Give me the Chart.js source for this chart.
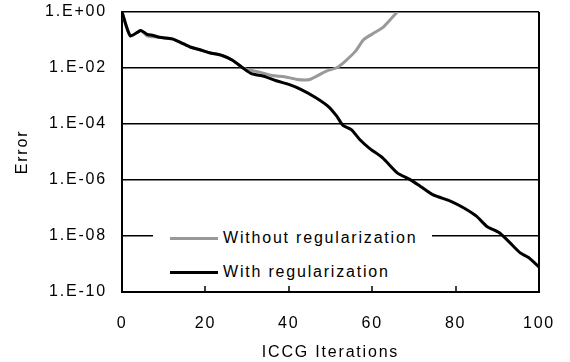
<!DOCTYPE html>
<html>
<head>
<meta charset="utf-8">
<script src="https://cdn.jsdelivr.net/npm/chart.js@4/dist/chart.umd.min.js"></script>
<style>
  html, body { margin: 0; padding: 0; background: #fff; }
  #wrap { position: relative; width: 570px; height: 362px; }
  #legend {
    position: absolute; left: 153px; top: 224px; width: 279px; height: 60px;
    background: #fff; font: 16px "Liberation Sans", Arial, sans-serif;
    letter-spacing: 1.8px; color: #000;
  }
  #legend .item { position: absolute; left: 17px; height: 20px; display: flex; align-items: center; }
  #legend .swatch { width: 48px; height: 3px; margin-right: 5px; }
</style>
</head>
<body>
<div id="wrap">
  <canvas id="errChart" width="570" height="362"></canvas>
  <div id="legend"></div>
</div>
<script>
// with regularization
var itersWith = [0, 2, 4.5, 6, 7.5, 9, 12, 14, 16.5, 18.5, 21, 24, 26.5, 29, 31, 34, 37, 40, 43, 46.5,
  49.5, 51.5, 53, 55, 57, 59.5, 62.5, 66, 69, 71.5, 74.5, 79, 82, 85, 87.5, 90.5, 93, 95.5, 97.5, 100]
var errorWith = [1, 0.14, 0.22, 0.16, 0.145, 0.125, 0.11, 0.083, 0.055, 0.046, 0.035, 0.028, 0.019, 0.010,
  0.0063, 0.0051, 0.0035, 0.0026, 0.0017, 8.7e-4, 4.2e-4, 1.9e-4, 8.9e-5, 6.3e-5, 2.8e-5, 1.3e-5, 6.2e-6,
  1.8e-6, 1.05e-6, 6.0e-7, 3.0e-7, 1.7e-7, 1.0e-7, 5.1e-8, 2.2e-8, 1.3e-8, 5.8e-9, 2.5e-9, 1.7e-9, 7.8e-10]

// without regularization
var itersWithout = [0, 2, 4.5, 6, 7.5, 9, 12, 14, 16.5, 18.5, 21, 24, 26.5, 29, 30, 33, 36, 39, 42, 45,
  49, 51.5, 53.5, 56, 58, 60.5, 62.5, 64, 66]
var errorWithout = [1, 0.14, 0.22, 0.14, 0.13, 0.125, 0.11, 0.083, 0.055, 0.046, 0.035, 0.028, 0.019, 0.010,
  0.0089, 0.0071, 0.0054, 0.0049, 0.0039, 0.0039, 0.0078, 0.0102, 0.0174, 0.04, 0.105, 0.18, 0.275, 0.47, 1]

var seriesLabels = ['With regularization', 'Without regularization']
var yTickValues = [1, 1e-2, 1e-4, 1e-6, 1e-8, 1e-10]
var yTickLabels = ['1.E+00', '1.E-02', '1.E-04', '1.E-06', '1.E-08', '1.E-10']
var xTickValues = [0, 20, 40, 60, 80, 100]

function toPoints(xs, ys) {
    return xs.map(function (x, i) { return {x: x, y: ys[i]} })
}

var FONT = {family: '"Liberation Sans", Arial, sans-serif', size: 16}

// wide letter spacing like the original
var spacingPlugin = {
    id: 'spacing',
    beforeLayout: function (chart) { chart.ctx.letterSpacing = '1.8px' },
    beforeDraw: function (chart) { chart.ctx.letterSpacing = '1.8px' }
}

// small tick marks pointing up from the x axis
var innerTicks = {
    id: 'innerTicks',
    afterDraw: function (chart) {
        var ctx = chart.ctx, xs = chart.scales.x, bottom = chart.chartArea.bottom
        ctx.save()
        ctx.strokeStyle = '#000'
        ctx.lineWidth = 1.5
        xTickValues.forEach(function (v) {
            var px = Math.round(xs.getPixelForValue(v))
            ctx.beginPath()
            ctx.moveTo(px, bottom)
            ctx.lineTo(px, bottom - 6)
            ctx.stroke()
        })
        ctx.restore()
    }
}

function noScalePadding(scale) {
    scale.paddingTop = 0
    scale.paddingBottom = 0
    scale.paddingLeft = 0
    scale.paddingRight = 0
}

var chart = new Chart(document.getElementById('errChart').getContext('2d'), {
    type: 'line',
    data: {
        datasets: [{
            label: seriesLabels[0],
            data: toPoints(itersWith, errorWith),
            borderColor: '#000000',
            borderWidth: 3,
            pointRadius: 0,
            tension: 0.2
        }, {
            label: seriesLabels[1],
            data: toPoints(itersWithout, errorWithout),
            borderColor: '#999999',
            borderWidth: 3,
            pointRadius: 0,
            tension: 0.2
        }]
    },
    options: {
        responsive: false,
        animation: false,
        layout: {padding: {top: 12, right: 31, left: 0, bottom: 0}},
        plugins: {legend: {display: false}, tooltip: {enabled: false}},
        scales: {
            x: {
                type: 'linear',
                min: 0,
                max: 100,
                afterBuildTicks: function (scale) {
                    scale.ticks = xTickValues.map(function (v) { return {value: v} })
                },
                afterFit: function (scale) { scale.height = 70; noScalePadding(scale) },
                ticks: {font: FONT, color: '#000', padding: 22, maxRotation: 0},
                grid: {
                    drawTicks: false,
                    lineWidth: 2,
                    color: function (c) { return c.tick && c.tick.value === 100 ? '#000' : 'rgba(0,0,0,0)' }
                },
                border: {display: true, color: '#000', width: 2},
                title: {display: true, text: 'ICCG Iterations', font: FONT, color: '#000', padding: {top: 2, bottom: 0}}
            },
            y: {
                type: 'logarithmic',
                min: 1e-10,
                max: 1,
                afterBuildTicks: function (scale) {
                    scale.ticks = yTickValues.map(function (v) { return {value: v} })
                },
                afterFit: function (scale) { scale.width = 122; noScalePadding(scale) },
                ticks: {
                    font: FONT,
                    color: '#000',
                    padding: 15,
                    callback: function (value) { return yTickLabels[yTickValues.indexOf(value)] }
                },
                grid: {drawTicks: false, color: '#000', lineWidth: 1.5},
                border: {display: true, color: '#000', width: 2},
                title: {display: true, text: 'Error', font: FONT, color: '#000', padding: {top: 13, bottom: 0}}
            }
        }
    },
    plugins: [spacingPlugin, innerTicks]
})

// legend box inside the plot
var legendEl = document.getElementById('legend')
var legendOrder = [1, 0]
legendOrder.forEach(function (di, row) {
    var ds = chart.data.datasets[di]
    var item = document.createElement('div')
    item.className = 'item'
    item.style.top = (4 + row * 34) + 'px'
    item.innerHTML = '<span class="swatch" style="background:' + ds.borderColor + '"></span><span>' + ds.label + '</span>'
    legendEl.appendChild(item)
})
</script>
</body>
</html>
